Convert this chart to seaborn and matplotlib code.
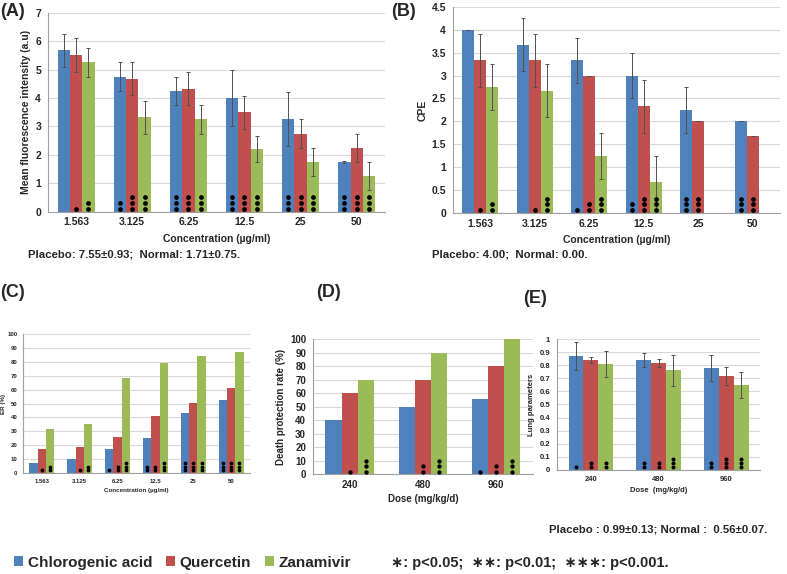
import numpy as np
import pandas as pd
import matplotlib
matplotlib.use("Agg")
import matplotlib.pyplot as plt
import matplotlib.transforms as mtransforms
import seaborn as sns
from matplotlib.ticker import FormatStrFormatter

# =========================
# DATA
# =========================

groups = ["Chlorogenic acid", "Quercetin", "Zanamivir"]
conc = ["1.563", "3.125", "6.25", "12.5", "25", "50"]
dose = ["240", "480", "960"]

# (A) mean fluorescence intensity
a_mean = [[5.67, 4.75, 4.25, 4.0, 3.25, 1.75],
          [5.5, 4.67, 4.33, 3.5, 2.75, 2.25],
          [5.25, 3.33, 3.25, 2.2, 1.75, 1.25]]
a_err = [[0.57, 0.5, 0.5, 1.0, 0.95, 0.05],
         [0.6, 0.58, 0.58, 0.58, 0.5, 0.5],
         [0.5, 0.58, 0.5, 0.45, 0.5, 0.5]]
a_stars = [[0, 2, 3, 3, 3, 3],
           [1, 3, 3, 3, 3, 3],
           [2, 3, 3, 3, 3, 3]]

# (B) CPE
b_mean = [[4.0, 3.67, 3.33, 3.0, 2.25, 2.0],
          [3.33, 3.33, 3.0, 2.33, 2.0, 1.67],
          [2.75, 2.67, 1.25, 0.67, 0.0, 0.0]]
b_err = [[0.0, 0.58, 0.5, 0.5, 0.5, 0.0],
         [0.58, 0.58, 0.0, 0.58, 0.0, 0.0],
         [0.5, 0.58, 0.5, 0.58, 0.0, 0.0]]
b_stars = [[0, 0, 1, 2, 3, 3],
           [1, 1, 2, 3, 3, 3],
           [2, 3, 3, 3, 0, 0]]

# (C) ER (%)
c_mean = [[7, 10, 17.5, 25.5, 43.5, 52.5],
          [17, 19, 26, 41, 50.5, 61],
          [31.5, 35, 68.5, 79.5, 84, 87]]
c_stars = [[0, 0, 1, 2, 3, 3],
           [1, 1, 2, 2, 3, 3],
           [2, 2, 3, 3, 3, 3]]

# (D) death protection rate (%)
d_mean = [[40, 50, 55.5],
          [60, 70, 80],
          [70, 90, 100]]
d_stars = [[0, 0, 1],
           [1, 2, 2],
           [3, 3, 3]]

# (E) lung parameters
e_mean = [[0.87, 0.84, 0.78],
          [0.84, 0.82, 0.72],
          [0.81, 0.76, 0.65]]
e_err = [[0.11, 0.05, 0.1],
         [0.02, 0.03, 0.07],
         [0.1, 0.12, 0.1]]
e_stars = [[1, 2, 2],
           [2, 2, 3],
           [2, 3, 3]]

colors = ["#4F81BD", "#C0504D", "#9BBB59"]

# =========================
# STYLE
# =========================

sns.set_style("white")
plt.rcParams["font.family"] = ["Liberation Sans", "DejaVu Sans"]
plt.rcParams["font.weight"] = "bold"

fig = plt.figure(figsize=(7.87, 5.74), dpi=100)


def to_df(cats, values):
    rows = []
    for g, vals in zip(groups, values):
        for c, v in zip(cats, vals):
            rows.append({"cat": c, "group": g, "value": v})
    return pd.DataFrame(rows)


def panel(rect, cats, values, errs, stars, ylim, ystep,
          xlabel, ylabel, tick_fs, label_fs, star_step, star_size,
          xlabelpad=3, ylabelpad=3, ytickpad=2):
    ax = fig.add_axes(rect)
    df = to_df(cats, values)
    sns.barplot(data=df, x="cat", y="value", hue="group",
                palette=colors, saturation=1, width=0.66, gap=0,
                linewidth=0, errorbar=None, ax=ax, zorder=2)
    ax.get_legend().remove()

    bar_conts = list(ax.containers)
    for i, cont in enumerate(bar_conts):
        for j, bar in enumerate(cont):
            x = bar.get_x() + bar.get_width() / 2
            if errs is not None and values[i][j] > 0:
                ax.errorbar(x, values[i][j], yerr=errs[i][j], fmt="none",
                            ecolor="#505050", elinewidth=0.7,
                            capsize=1.6, capthick=0.7, zorder=3)
            for k in range(stars[i][j]):
                off = mtransforms.ScaledTranslation(
                    0, (1.8 + k * star_step) / 72, fig.dpi_scale_trans)
                ax.plot([x], [0], marker="o", color="black",
                        markersize=star_size, linestyle="none", zorder=4,
                        transform=ax.transData + off, clip_on=False)

    ax.set_ylim(*ylim)
    ax.set_yticks(np.arange(ylim[0], ylim[1] + ystep / 2, ystep))
    ax.yaxis.set_major_formatter(FormatStrFormatter("%g"))
    ax.set_xlim(-0.5, len(cats) - 0.5)
    ax.set_xticks(np.arange(-0.5, len(cats)), minor=True)
    ax.tick_params(axis="x", which="major", length=0, labelsize=tick_fs,
                   pad=4)
    ax.tick_params(axis="x", which="minor", length=3, color="#a0a0a0",
                   direction="out")
    ax.tick_params(axis="y", length=3, color="#a0a0a0", labelsize=tick_fs,
                   pad=ytickpad, direction="out")
    ax.grid(axis="y", color="#d9d9d9", linewidth=0.8, zorder=0)
    ax.set_axisbelow(True)
    for s in ["top", "right"]:
        ax.spines[s].set_visible(False)
    for s in ["left", "bottom"]:
        ax.spines[s].set_color("#a0a0a0")
        ax.spines[s].set_linewidth(0.8)
    ax.set_xlabel(xlabel, fontsize=label_fs, fontweight="bold",
                  labelpad=xlabelpad)
    ax.set_ylabel(ylabel, fontsize=label_fs, fontweight="bold",
                  labelpad=ylabelpad)
    return ax


ax_a = panel([0.061, 0.631, 0.428, 0.347], conc, a_mean, a_err, a_stars,
             (0, 7), 1, "Concentration (\u00b5g/ml)",
             "Mean fluorescence intensity (a.u)", 7.5, 7.5, 4.3, 2.4,
             xlabelpad=5)
ax_b = panel([0.5756, 0.629, 0.4155, 0.359], conc, b_mean, b_err, b_stars,
             (0, 4.5), 0.5, "Concentration (\u00b5g/ml)",
             "CPE", 7.5, 7.5, 4.3, 2.4, xlabelpad=5)
ax_c = panel([0.0292, 0.176, 0.2884, 0.242], conc, c_mean, None, c_stars,
             (0, 100), 10, "Concentration (\u00b5g/ml)",
             "ER (%)", 4.3, 4.5, 2.8, 1.7, ylabelpad=1, ytickpad=1)
ax_d = panel([0.3977, 0.1742, 0.2795, 0.2352], dose, d_mean, None, d_stars,
             (0, 100), 10, "Dose (mg/kg/d)",
             "Death protection rate (%)", 7, 7, 3.8, 2.1)
ax_e = panel([0.7078, 0.1812, 0.258, 0.2282], dose, e_mean, e_err, e_stars,
             (0, 1), 0.1, "Dose  (mg/kg/d)",
             "Lung parameters", 5.5, 5.5, 3.2, 1.9)

# =========================
# TEXT
# =========================

fig.text(0.0, 0.995, "(A)", fontsize=13, fontweight="bold", va="top")
fig.text(0.497, 0.995, "(B)", fontsize=13, fontweight="bold", va="top")
fig.text(0.0, 0.505, "(C)", fontsize=13, fontweight="bold", va="top")
fig.text(0.402, 0.505, "(D)", fontsize=13, fontweight="bold", va="top")
fig.text(0.665, 0.495, "(E)", fontsize=13, fontweight="bold", va="top")

fig.text(0.036, 0.556, "Placebo: 7.55\u00b10.93;  Normal: 1.71\u00b10.75.",
         fontsize=8.2, fontweight="bold", va="center")
fig.text(0.549, 0.556, "Placebo: 4.00;  Normal: 0.00.",
         fontsize=8.2, fontweight="bold", va="center")
fig.text(0.975, 0.077,
         "Placebo : 0.99\u00b10.13; Normal :  0.56\u00b10.07.",
         fontsize=8.2, fontweight="bold", va="center", ha="right")

handles, labels = ax_a.get_legend_handles_labels()
fig.legend(handles, labels, loc="center left", bbox_to_anchor=(0.0, 0.02),
           ncol=3, frameon=False, prop={"weight": "bold", "size": 11},
           handlelength=0.6, handleheight=0.6, handletextpad=0.3,
           columnspacing=0.9)
fig.text(0.497, 0.02, "\u2217: p<0.05;  \u2217\u2217: p<0.01;  "
         "\u2217\u2217\u2217: p<0.001.", fontsize=10.5, fontweight="bold",
         va="center")

fig.savefig("out.png", dpi=100)
